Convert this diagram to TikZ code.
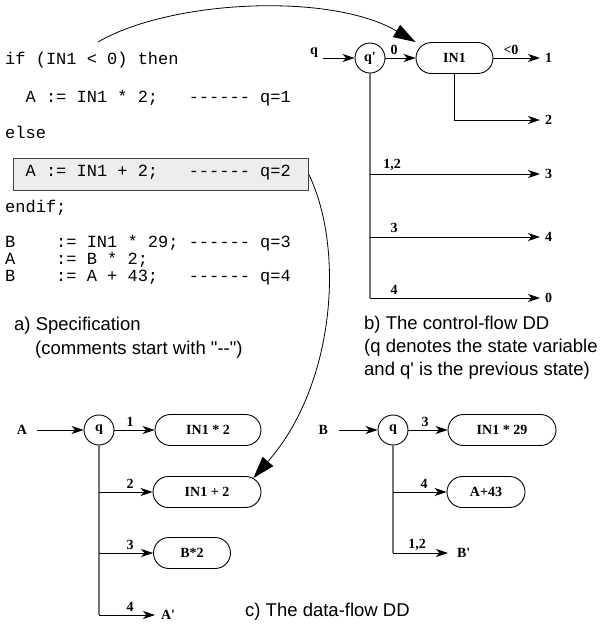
\documentclass[tikz,border=0pt]{standalone}
\usepackage{fontspec}
\newfontfamily\codefont{Liberation Mono}
\newfontfamily\capfont{Liberation Sans}
\newfontfamily\lblfont{Liberation Serif}
\usetikzlibrary{arrows.meta}

\tikzset{
  code/.style={font=\codefont\fontsize{17}{17}\selectfont\frenchspacing, anchor=mid west, inner sep=0pt},
  caption/.style={font=\capfont\fontsize{18.5}{18.5}\selectfont, anchor=mid west, inner sep=0pt},
  lbl/.style={font=\lblfont\bfseries\fontsize{14}{14}\selectfont, inner sep=0pt},
  stnode/.style={lbl, circle, draw, line width=0.9pt, minimum size=30pt},
  opnode/.style={lbl, draw, line width=0.9pt, rounded corners=15.5pt, minimum height=31pt},
  endlbl/.style={lbl, anchor=west, outer sep=5pt},
  srclbl/.style={lbl, anchor=east},
  arr/.style={line width=0.9pt, -{Stealth[length=12pt,width=8pt,inset=3.5pt]}},
  spine/.style={line width=1.2pt, black!55},
  bigarr/.style={line width=0.8pt, -{Triangle[length=22pt,width=14pt]}},
  codebox/.style={draw=black!75, fill=black!7, line width=0.9pt, anchor=north west,
    inner sep=0pt, minimum width=295pt, minimum height=32pt}
}

\begin{document}
\begin{tikzpicture}[x=1pt,y=-1pt]
\fill[white] (0,0) rectangle (603,630);
\useasboundingbox (0,0) rectangle (603,630);

% ---------------- a) specification ----------------
\node[code] (c1) at (5,62) {if (IN1 < 0) then};
\node[code] (c2) at (25.4,100) {A := IN1 * 2;~~~------ q=1};
\node[code] (c3) at (5,136) {else};
\node[codebox] (codebox) at (13,158) {};
\node[code] (c4) at (25.4,174) {A := IN1 + 2;~~~------ q=2};
\node[code] (c5) at (5,210) {endif;};
\node[code] (c6) at (5,245) {B~~~~:= IN1 * 29; ------ q=3};
\node[code] (c7) at (5,262) {A~~~~:= B * 2;};
\node[code] (c8) at (5,279) {B~~~~:= A + 43;~~~------ q=4};

\node[caption] (capa1) at (14,328) {a) Specification};
\node[caption] (capa2) at (35,352) {(comments start with "--")};

% ---------------- b) control-flow DD ----------------
\node[srclbl, outer sep=5pt] (qin) at (323,53) {q};
\node[stnode] (qp) at (370,58) {q'};
\node[opnode, minimum width=77pt] (in1) at (454.5,58) {IN1};
\node[lbl] (l0) at (394,50) {0};
\node[lbl] (llt) at (511,50) {<0};
\node[endlbl] (t1) at (540,58) {1};
\node[endlbl] (t2) at (540,120) {2};
\node[endlbl] (t3) at (540,174) {3};
\node[endlbl] (t4) at (540,237) {4};
\node[endlbl] (t0) at (540,298) {0};
\node[lbl] (l12) at (392,165) {1,2};
\node[lbl] (l3) at (394,228) {3};
\node[lbl] (l4) at (394,290) {4};

\draw[arr] (qin.east |- qp.west) -- (qp.west);
\draw[arr] (qp.east) -- (in1.west);
\draw[arr] (in1.east) -- (t1.west);
\draw[arr] (in1.south) |- (t2.west);
\draw[spine] (qp.south) -- (qp.south |- t0.west);
\draw[arr] (qp.south |- t3.west) -- (t3.west);
\draw[arr] (qp.south |- t4.west) -- (t4.west);
\draw[arr] (qp.south |- t0.west) -- (t0.west);

\node[caption] (capb1) at (364,327) {b) The control-flow DD};
\node[caption] (capb2) at (364,350) {(q denotes the state variable};
\node[caption] (capb3) at (364,373) {and q' is the previous state)};

% ---------------- c) data-flow DD, variable A ----------------
\node[srclbl, outer sep=10pt] (srcA) at (37,430) {A};
\node[stnode] (qa) at (99,430) {q};
\node[opnode, minimum width=106pt] (ia2) at (208,430) {IN1 * 2};
\node[opnode, minimum width=108pt] (ipl2) at (207,492) {IN1 + 2};
\node[opnode, minimum width=77pt] (bm2) at (192,553) {B*2};
\node[endlbl, outer sep=6pt] (Ap) at (155,615) {A'};
\node[lbl] (la1) at (130,422) {1};
\node[lbl] (la2) at (130,484) {2};
\node[lbl] (la3) at (130,545) {3};
\node[lbl] (la4) at (130,607) {4};

\draw[arr] (srcA.east) -- (qa.west);
\draw[arr] (qa.east) -- (ia2.west);
\draw[spine] (qa.south) -- (qa.south |- Ap.west);
\draw[arr] (qa.south |- ipl2.west) -- (ipl2.west);
\draw[arr] (qa.south |- bm2.west) -- (bm2.west);
\draw[arr] (qa.south |- Ap.west) -- (Ap.west);

% ---------------- c) data-flow DD, variable B ----------------
\node[srclbl, outer sep=11pt] (srcB) at (339,430) {B};
\node[stnode] (qb) at (393,430) {q};
\node[opnode, minimum width=108pt] (ib29) at (502,430) {IN1 * 29};
\node[opnode, minimum width=78pt] (a43) at (486,492) {A+43};
\node[endlbl, outer sep=9pt] (Bp) at (448,553) {B'};
\node[lbl] (lb3) at (425,422) {3};
\node[lbl] (lb4) at (424,484) {4};
\node[lbl] (lb12) at (417,545) {1,2};

\draw[arr] (srcB.east) -- (qb.west);
\draw[arr] (qb.east) -- (ib29.west);
\draw[spine] (qb.south) -- (qb.south |- Bp.west);
\draw[arr] (qb.south |- a43.west) -- (a43.west);
\draw[arr] (qb.south |- Bp.west) -- (Bp.west);

\node[caption] (capc) at (245,614) {c) The data-flow DD};

% ---------------- links from the specification ----------------
\coordinate (cstart) at (98,42);
\draw[bigarr] (cstart) .. controls (170,0) and (330,-8) .. (in1.north west);
\draw[bigarr] (codebox.east) .. controls (345,250) and (335,385)
  .. ([xshift=-8pt,yshift=-2pt]ipl2.north east);
\end{tikzpicture}
\end{document}
